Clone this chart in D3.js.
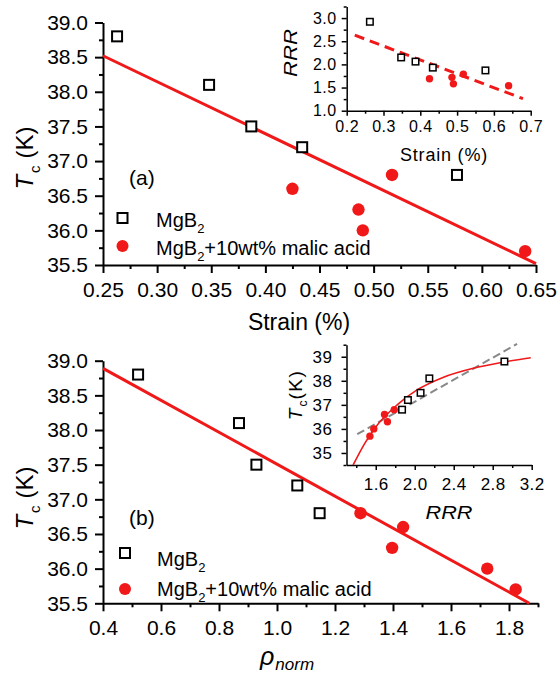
<!DOCTYPE html>
<html>
<head>
<meta charset="utf-8">
<script src="https://cdn.jsdelivr.net/npm/d3@7"></script>
<style>
  html, body { margin: 0; padding: 0; background: #fff; }
  svg { display: block; font-family: "Liberation Sans", Arial, sans-serif; }
</style>
</head>
<body>
<svg id="chart" width="559" height="681"></svg>
<script>
// ---------- Data ----------
// Panel (a): Tc vs strain
const strainMg = [0.263, 0.348, 0.387, 0.434, 0.577];
const tcMg     = [38.8, 38.1, 37.5, 37.2, 36.8];
const strainMA = [0.425, 0.486, 0.490, 0.517, 0.640];
const tcMA     = [36.6, 36.3, 36.0, 36.8, 35.7];
const fitAStrain = [0.25, 0.65];
const fitATc     = [38.52, 35.52];

// Inset (a): RRR vs strain
const rrrMg = [2.92, 2.15, 2.06, 1.93, 1.87];
const rrrMA = [1.69, 1.72, 1.58, 1.79, 1.54];
const fitInAStrain = [0.222, 0.679];
const fitInARrr    = [2.63, 1.26];

// Panel (b): Tc vs rho_norm
const rhoMg = [0.521, 0.869, 0.929, 1.070, 1.147];
const rhoMA = [1.435, 1.397, 1.725, 1.288, 1.823];
const fitBRho = [0.4, 1.87];
const fitBTc  = [38.89, 35.50];

// Inset (b): Tc vs RRR
const grayRrr = [1.41, 3.05];
const grayTc  = [35.78, 39.53];
const curveRrr = [1.368, 1.486, 1.6, 1.817, 2.02, 2.29, 2.60, 2.90, 3.19];
const curveTc  = [34.5, 35.39, 36.08, 36.99, 37.61, 38.14, 38.52, 38.77, 38.96];

// Ticks
const tcTicks      = [35.5, 36.0, 36.5, 37.0, 37.5, 38.0, 38.5, 39.0];
const strainTicks  = [0.25, 0.30, 0.35, 0.40, 0.45, 0.50, 0.55, 0.60, 0.65];
const rhoTicks     = [0.4, 0.6, 0.8, 1.0, 1.2, 1.4, 1.6, 1.8];
const inAXTicks    = [0.2, 0.3, 0.4, 0.5, 0.6, 0.7];
const inAYTicks    = [1.0, 1.5, 2.0, 2.5, 3.0];
const inBXTicks    = [1.6, 2.0, 2.4, 2.8, 3.2];
const inBYTicks    = [35, 36, 37, 38, 39];

const RED = "#f01818";
const svg = d3.select("#chart");

function minors(majors, step, lo, hi) {
  const out = [];
  for (let v = lo; v <= hi + 1e-9; v += step) {
    if (!majors.some(m => Math.abs(m - v) < 1e-6)) out.push(+v.toFixed(4));
  }
  return out;
}

function drawAxes(g, x, y, o) {
  g.append("g").attr("transform", `translate(0,${y.range()[0]})`)
    .call(d3.axisBottom(x).tickValues(o.xTicks).tickFormat(d3.format(o.xFmt))
      .tickSize(o.major).tickSizeOuter(0).tickPadding(o.xPad));
  g.append("g").attr("transform", `translate(0,${y.range()[0]})`)
    .call(d3.axisBottom(x).tickValues(o.xMinor).tickFormat("").tickSize(o.minor).tickSizeOuter(0))
    .select(".domain").remove();
  g.append("g").attr("transform", `translate(${x.range()[0]},0)`)
    .call(d3.axisLeft(y).tickValues(o.yTicks).tickFormat(d3.format(o.yFmt))
      .tickSize(o.major).tickSizeOuter(0).tickPadding(o.yPad));
  g.append("g").attr("transform", `translate(${x.range()[0]},0)`)
    .call(d3.axisLeft(y).tickValues(o.yMinor).tickFormat("").tickSize(o.minor).tickSizeOuter(0))
    .select(".domain").remove();
  g.selectAll(".domain").attr("stroke", "#000").attr("stroke-width", o.sw);
  g.selectAll(".tick line").attr("stroke", "#000").attr("stroke-width", o.sw);
  g.selectAll(".tick text").attr("fill", "#000").attr("font-size", o.fs)
    .attr("font-family", "Liberation Sans, Arial, sans-serif")
    .style("letter-spacing", o.ls || "0px");
}

function squares(g, xs, ys, x, y, size, sw) {
  g.selectAll(null).data(xs.map((d, i) => [d, ys[i]])).enter().append("rect")
    .attr("x", d => x(d[0]) - size / 2).attr("y", d => y(d[1]) - size / 2)
    .attr("width", size).attr("height", size)
    .attr("fill", "#fff").attr("stroke", "#000").attr("stroke-width", sw);
}
function circles(g, xs, ys, x, y, r) {
  g.selectAll(null).data(xs.map((d, i) => [d, ys[i]])).enter().append("circle")
    .attr("cx", d => x(d[0])).attr("cy", d => y(d[1])).attr("r", r).attr("fill", RED);
}
function line(g, xs, ys, x, y, color, w, dash, curve) {
  const gen = d3.line().x(d => x(d[0])).y(d => y(d[1]));
  if (curve) gen.curve(curve);
  g.append("path").datum(xs.map((d, i) => [d, ys[i]]))
    .attr("d", gen).attr("fill", "none").attr("stroke", color)
    .attr("stroke-width", w).attr("stroke-dasharray", dash || null);
}

function legend(g, x0, ySq, yCi, tx, b1, b2) {
  g.append("rect").attr("x", x0 - 5).attr("y", ySq - 5).attr("width", 10).attr("height", 10)
    .attr("fill", "#fff").attr("stroke", "#000").attr("stroke-width", 2);
  g.append("circle").attr("cx", x0).attr("cy", yCi).attr("r", 6).attr("fill", RED);
  const t1 = g.append("text").attr("x", tx).attr("y", b1).attr("font-size", 20);
  t1.append("tspan").text("MgB");
  t1.append("tspan").attr("font-size", 13).attr("dy", 6).text("2");
  const t2 = g.append("text").attr("x", tx).attr("y", b2).attr("font-size", 20);
  t2.append("tspan").text("MgB");
  t2.append("tspan").attr("font-size", 13).attr("dy", 6).text("2");
  t2.append("tspan").attr("dy", -6).text("+10wt% malic acid");
}

function tcLabel(g, cx, cy, fs, sep) {
  const t = g.append("text").attr("transform", `translate(${cx},${cy}) rotate(-90)`)
    .attr("text-anchor", "middle").attr("font-size", fs);
  t.append("tspan").attr("font-style", "italic").text("T");
  t.append("tspan").attr("font-size", fs * 0.62).attr("dy", fs * 0.3).attr("dx", 2).text("c");
  t.append("tspan").attr("dy", -fs * 0.3).attr("dx", sep).text("(K)");
}

// ---------- Panel (a) ----------
const gA = svg.append("g");
const xA = d3.scaleLinear().domain([0.25, 0.65]).range([103, 536]);
const yA = d3.scaleLinear().domain([35.5, 39.0]).range([265, 22.5]);
drawAxes(gA, xA, yA, {
  xTicks: strainTicks, xMinor: minors(strainTicks, 0.025, 0.25, 0.65), xFmt: ".2f",
  yTicks: tcTicks, yMinor: minors(tcTicks, 0.25, 35.5, 39.0), yFmt: ".1f",
  major: 8, minor: 4, xPad: 9, yPad: 7, sw: 2, fs: 21
});
line(gA, fitAStrain, fitATc, xA, yA, RED, 3);
squares(gA, strainMg, tcMg, xA, yA, 10, 2);
circles(gA, strainMA, tcMA, xA, yA, 6.2);
gA.append("text").attr("x", 299).attr("y", 330).attr("text-anchor", "middle")
  .attr("font-size", 23).text("Strain (%)");
tcLabel(gA, 33, 158, 24, 7);
gA.append("text").attr("x", 129).attr("y", 185).attr("font-size", 21).text("(a)");
legend(gA, 122.5, 218, 246, 156, 227, 255);

// ---------- Inset (a) ----------
const gIA = svg.append("g");
const xIA = d3.scaleLinear().domain([0.2, 0.7]).range([346.7, 530.7]);
const yIA = d3.scaleLinear().domain([1.0, 3.25]).range([110.7, 6.5]);
drawAxes(gIA, xIA, yIA, {
  xTicks: inAXTicks, xMinor: minors(inAXTicks, 0.05, 0.2, 0.7), xFmt: ".1f",
  yTicks: inAYTicks, yMinor: minors(inAYTicks, 0.25, 1.0, 3.25), yFmt: ".1f",
  major: 5, minor: 3, xPad: 5, yPad: 5, sw: 1.5, fs: 16, ls: "0.5px"
});
line(gIA, fitInAStrain, fitInARrr, xIA, yIA, RED, 3, "10,6");
squares(gIA, strainMg, rrrMg, xIA, yIA, 6.5, 1.5);
circles(gIA, strainMA, rrrMA, xIA, yIA, 3.7);
gIA.append("text").attr("x", 444).attr("y", 161).attr("text-anchor", "middle")
  .attr("font-size", 18).style("letter-spacing", "0.8px").text("Strain (%)");
gIA.append("text").attr("transform", "translate(297,53) rotate(-90)")
  .attr("text-anchor", "middle").attr("font-size", 18).attr("font-style", "italic")
  .attr("textLength", 48).attr("lengthAdjust", "spacingAndGlyphs").text("RRR");

// ---------- Panel (b) ----------
const gB = svg.append("g");
const xB = d3.scaleLinear().domain([0.4, 1.9]).range([103, 538]);
const yB = d3.scaleLinear().domain([35.5, 39.0]).range([603.3, 360.7]);
drawAxes(gB, xB, yB, {
  xTicks: rhoTicks, xMinor: minors(rhoTicks, 0.1, 0.4, 1.9), xFmt: ".1f",
  yTicks: tcTicks, yMinor: minors(tcTicks, 0.25, 35.5, 39.0), yFmt: ".1f",
  major: 8, minor: 4, xPad: 9, yPad: 7, sw: 2, fs: 21
});
line(gB, fitBRho, fitBTc, xB, yB, RED, 3);
squares(gB, rhoMg, tcMg, xB, yB, 10, 2);
circles(gB, rhoMA, tcMA, xB, yB, 6.2);
const rl = gB.append("text").attr("x", 260).attr("y", 665).attr("font-size", 25).attr("font-style", "italic");
rl.append("tspan").text("ρ");
rl.append("tspan").attr("font-size", 17).attr("dy", 5).attr("dx", 1).text("norm");
tcLabel(gB, 33, 498, 24, 7);
gB.append("text").attr("x", 129).attr("y", 525).attr("font-size", 21).text("(b)");
legend(gB, 125, 553, 589, 157, 566, 596);

// ---------- Inset (b) ----------
const gIB = svg.append("g");
const xIB = d3.scaleLinear().domain([1.3, 3.2]).range([346.5, 531.7]);
const yIB = d3.scaleLinear().domain([34.5, 39.5]).range([465, 344.7]);
drawAxes(gIB, xIB, yIB, {
  xTicks: inBXTicks, xMinor: minors(inBXTicks, 0.2, 1.4, 3.2), xFmt: ".1f",
  yTicks: inBYTicks, yMinor: minors(inBYTicks, 0.5, 34.5, 39.5), yFmt: "d",
  major: 5, minor: 3, xPad: 8, yPad: 9, sw: 1.5, fs: 17, ls: "0.5px"
});
gIB.append("clipPath").attr("id", "clipIB").append("rect")
  .attr("x", 346.5).attr("y", 330).attr("width", 200).attr("height", 135);
const gIBc = gIB.append("g").attr("clip-path", "url(#clipIB)");
line(gIBc, grayRrr, grayTc, xIB, yIB, "#888", 2, "8,4");
line(gIBc, curveRrr, curveTc, xIB, yIB, RED, 1.6, null, d3.curveMonotoneX);
squares(gIB, rrrMg, tcMg, xIB, yIB, 6.5, 1.5);
circles(gIB, rrrMA, tcMA, xIB, yIB, 3.7);
gIB.append("text").attr("x", 449).attr("y", 519).attr("text-anchor", "middle")
  .attr("font-size", 19).attr("font-style", "italic")
  .attr("textLength", 47).attr("lengthAdjust", "spacingAndGlyphs").text("RRR");
const tl = gIB.append("text").attr("transform", "translate(302,395) rotate(-90)")
  .attr("text-anchor", "middle").attr("font-size", 19);
tl.append("tspan").attr("font-style", "italic").text("T");
tl.append("tspan").attr("font-size", 12).attr("dy", 5).attr("dx", 2).text("c");
tl.append("tspan").attr("dy", -5).attr("dx", 1).style("letter-spacing", "1.5px").text("(K)");
</script>
</body>
</html>
